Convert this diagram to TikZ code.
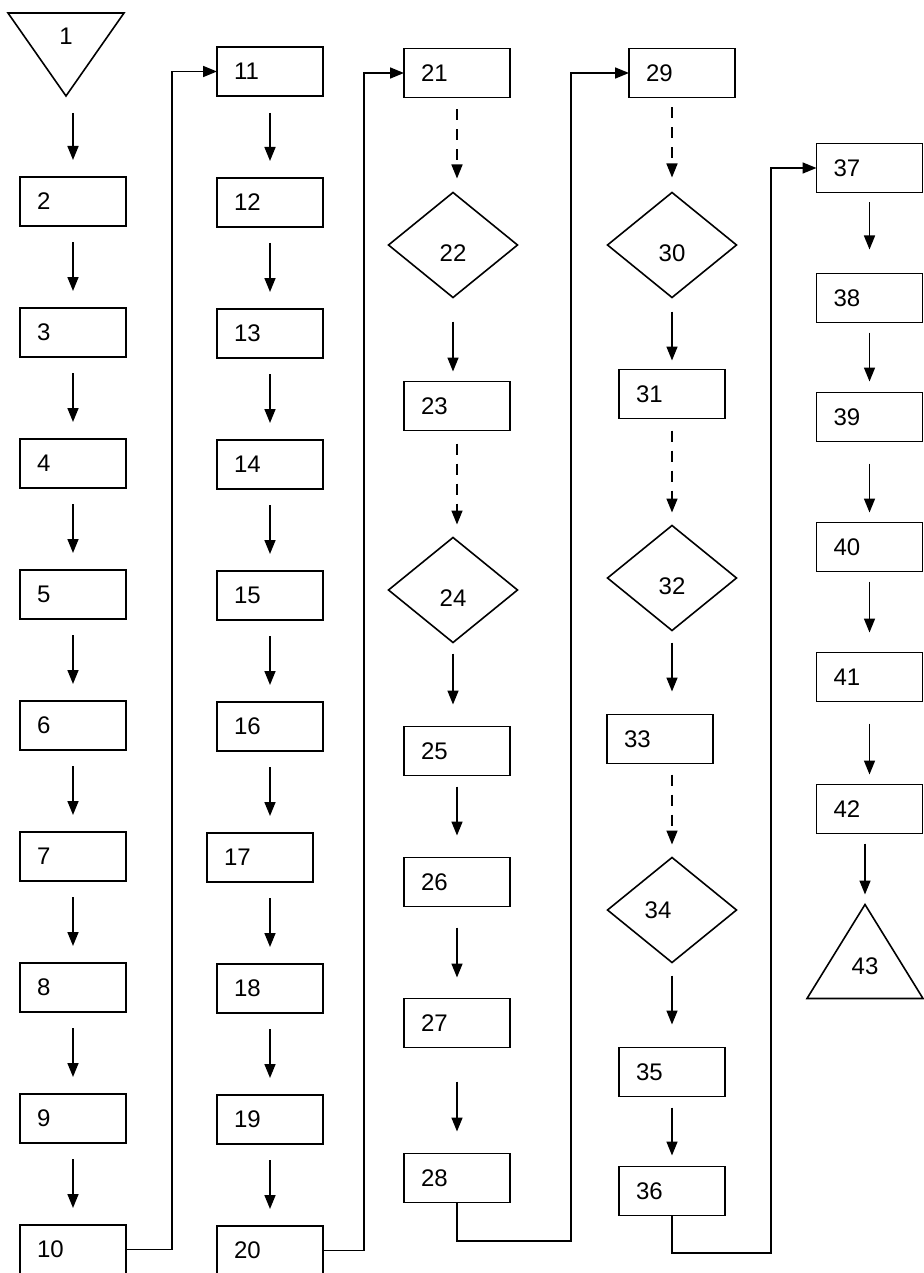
\documentclass[tikz,border=0pt]{standalone}
\usepackage{fontspec}
\setmainfont{Liberation Sans}
\usetikzlibrary{arrows.meta}
\usetikzlibrary{shapes.geometric, positioning}

\begin{document}
\begin{tikzpicture}[x=1pt, y=-1pt,
    line width=1.6pt,
    every node/.style={font=\fontsize{24}{28}\selectfont, outer sep=0pt},
    block/.style={rectangle, draw, minimum width=106pt, minimum height=49pt, text width=72pt, inner xsep=17pt, inner ysep=0pt, align=left},
    decision/.style={diamond, draw, minimum width=129pt, minimum height=105pt, inner sep=0pt, text height=33pt, text depth=0pt},
    terminal/.style={isosceles triangle, isosceles triangle stretches, draw, inner sep=0pt},
    arrow/.style={-{Triangle[length=14pt,width=11pt]}},
    dasharrow/.style={arrow, dash pattern=on 11pt off 9pt},
    gap/.style 2 args={shorten <=#1pt, shorten >=#2pt},
    ]
    \useasboundingbox (0,0) rectangle (923,1273);

    % Column 1
    \node [terminal, shape border rotate=-90, minimum width=116pt, minimum height=83pt, anchor=apex, label={[yshift=7pt]center:1}] (s1) at (66,96) {};
    \node [block, below=81pt of s1, xshift=7pt] (s2) {2};
    \draw [arrow, gap={17}{17}] (s2 |- s1.south) -- (s2);
    \node [block, below=82pt of s2] (s3) {3};
    \draw [arrow, gap={16}{17}] (s2) -- (s2 |- s3.north);
    \node [block, below=82pt of s3] (s4) {4};
    \draw [arrow, gap={16}{17}] (s3) -- (s3 |- s4.north);
    \node [block, below=82pt of s4] (s5) {5};
    \draw [arrow, gap={16}{17}] (s4) -- (s4 |- s5.north);
    \node [block, below=82pt of s5] (s6) {6};
    \draw [arrow, gap={16}{17}] (s5) -- (s5 |- s6.north);
    \node [block, below=82pt of s6] (s7) {7};
    \draw [arrow, gap={16}{17}] (s6) -- (s6 |- s7.north);
    \node [block, below=82pt of s7] (s8) {8};
    \draw [arrow, gap={16}{17}] (s7) -- (s7 |- s8.north);
    \node [block, below=82pt of s8] (s9) {9};
    \draw [arrow, gap={16}{17}] (s8) -- (s8 |- s9.north);
    \node [block, below=82pt of s9] (s10) {10};
    \draw [arrow, gap={16}{17}] (s9) -- (s9 |- s10.north);

    % Column 2
    \node [block] (s11) at (270,71.5) {11};
    \draw [arrow] (s10.east) -- ++(46,0) |- (s11.west);
    \node [block, below=82pt of s11] (s12) {12};
    \draw [arrow, gap={17}{17}] (s11) -- (s11 |- s12.north);
    \node [block, below=82pt of s12] (s13) {13};
    \draw [arrow, gap={16}{17}] (s12) -- (s12 |- s13.north);
    \node [block, below=82pt of s13] (s14) {14};
    \draw [arrow, gap={16}{17}] (s13) -- (s13 |- s14.north);
    \node [block, below=82pt of s14] (s15) {15};
    \draw [arrow, gap={16}{17}] (s14) -- (s14 |- s15.north);
    \node [block, below=82pt of s15] (s16) {16};
    \draw [arrow, gap={16}{17}] (s15) -- (s15 |- s16.north);
    \node [block, below=82pt of s16, xshift=-10pt] (s17) {17};
    \draw [arrow, gap={16}{17}] (s16) -- (s16 |- s17.north);
    \node [block, below=82pt of s17, xshift=10pt] (s18) {18};
    \draw [arrow, gap={16}{17}] (s18 |- s17.south) -- (s18);
    \node [block, below=82pt of s18] (s19) {19};
    \draw [arrow, gap={16}{17}] (s18) -- (s18 |- s19.north);
    \node [block, below=82pt of s19] (s20) {20};
    \draw [arrow, gap={16}{17}] (s19) -- (s19 |- s20.north);

    % Column 3
    \node [block] (s21) at (457,73) {21};
    \draw [arrow] (s20.east) -- ++(41,0) |- (s21.west);
    \node [decision, below=95pt of s21, xshift=-4pt] (s22) {22};
    \draw [dasharrow, gap={12}{14}] (s21) -- (s21 |- s22.north);
    \node [block, below=84pt of s22, xshift=4pt] (s23) {23};
    \draw [arrow, gap={24}{10}] (s22) -- (s22 |- s23.north);
    \node [decision, below=107pt of s23, xshift=-4pt] (s24) {24};
    \draw [dasharrow, gap={13}{13}] (s23) -- (s23 |- s24.north);
    \node [block, below=84pt of s24, xshift=4pt] (s25) {25};
    \draw [arrow, gap={11}{22}] (s24) -- (s24 |- s25.north);
    \node [block, below=82pt of s25] (s26) {26};
    \draw [arrow, gap={11}{22}] (s25) -- (s25 |- s26.north);
    \node [block, below=92pt of s26] (s27) {27};
    \draw [arrow, gap={21}{21}] (s26) -- (s26 |- s27.north);
    \node [block, below=106pt of s27] (s28) {28};
    \draw [arrow, gap={34}{22}] (s27) -- (s27 |- s28.north);

    % Column 4
    \node [block] (s29) at (682,73) {29};
    \draw [arrow] (s28.south) |- (571,1241) |- (s29.west);
    \node [decision, below=95pt of s29, xshift=-10pt] (s30) {30};
    \draw [dasharrow, gap={10}{15}] (s30 |- s29.south) -- (s30);
    \node [block, below=72pt of s30] (s31) {31};
    \draw [arrow, gap={14}{9}] (s30) -- (s30 |- s31.north);
    \node [decision, below=107pt of s31] (s32) {32};
    \draw [dasharrow, gap={12}{13}] (s31) -- (s31 |- s32.north);
    \node [block, below=84pt of s32, xshift=-12pt] (s33) {33};
    \draw [arrow, gap={12}{23}] (s32) -- (s32 |- s33.north);
    \node [decision, text height=17pt, below=94pt of s33, xshift=12pt] (s34) {34\rule{28pt}{0pt}};
    \draw [dasharrow, gap={11}{13}] (s34 |- s33.south) -- (s34);
    \node [block, below=85pt of s34] (s35) {35};
    \draw [arrow, gap={13}{23}] (s34) -- (s34 |- s35.north);
    \node [block, below=70pt of s35] (s36) {36};
    \draw [arrow, gap={11}{11}] (s35) -- (s35 |- s36.north);

    % Column 5
    \node [block] (s37) at (869.5,168) {37};
    \draw [arrow] (s36.south) |- (771,1253) |- (s37.west);
    \node [block, below=81pt of s37] (s38) {38};
    \draw [arrow, gap={10}{24}] (s37) -- (s37 |- s38.north);
    \node [block, below=70pt of s38] (s39) {39};
    \draw [arrow, gap={10}{11}] (s38) -- (s38 |- s39.north);
    \node [block, below=81pt of s39] (s40) {40};
    \draw [arrow, gap={22}{10}] (s39) -- (s39 |- s40.north);
    \node [block, below=81pt of s40] (s41) {41};
    \draw [arrow, gap={10}{20}] (s40) -- (s40 |- s41.north);
    \node [block, below=83pt of s41] (s42) {42};
    \draw [arrow, gap={22}{10}] (s41) -- (s41 |- s42.north);
    \node [terminal, shape border rotate=90, minimum width=116pt, minimum height=94pt, below=71pt of s42, xshift=-4.5pt, label=center:43] (s43) {};
    \draw [arrow, gap={10}{10}] (s43 |- s42.south) -- (s43);

\end{tikzpicture}
\end{document}
